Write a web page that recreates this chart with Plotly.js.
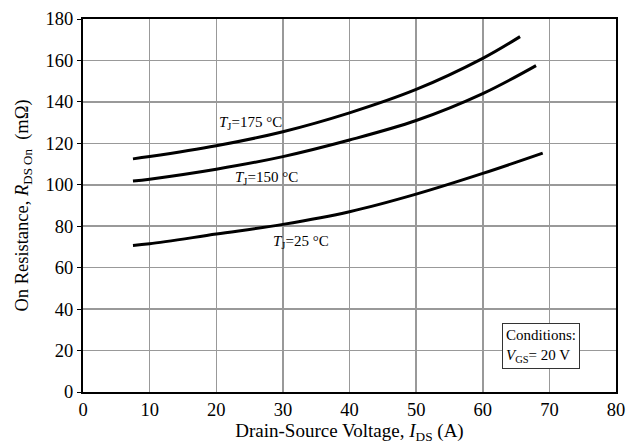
<!DOCTYPE html>
<html>
<head>
<meta charset="utf-8">
<script src="https://cdn.plot.ly/plotly-3.0.1.min.js"></script>
<style>html,body{margin:0;padding:0;background:#fff;}#chart{width:643px;height:444px;}</style>
</head>
<body>
<div id="chart"></div>
<script>
const x175 = [7.5, 10, 20, 30, 40, 50, 60, 65.6];
const y175 = [112.5, 113.6, 118.8, 125.6, 134.7, 146, 161, 171.5];
const x150 = [7.5, 10, 20, 30, 40, 50, 60, 68];
const y150 = [101.8, 102.7, 107.5, 113.6, 121.6, 131, 144, 157.5];
const x25 = [7.5, 10, 20, 30, 40, 50, 60, 69];
const y25 = [70.7, 71.5, 76.2, 80.9, 87, 95.5, 105.5, 115.3];
const xTicks = [0, 10, 20, 30, 40, 50, 60, 70, 80];
const yTicks = [0, 20, 40, 60, 80, 100, 120, 140, 160, 180];

const font = {family: '"Liberation Serif", "Times New Roman", serif', color: '#000'};
const line = {color: '#000', width: 3, shape: 'spline'};

const traces = [
  {x: x175, y: y175, mode: 'lines', line: line, name: 'Tj=175 °C', hoverinfo: 'skip'},
  {x: x150, y: y150, mode: 'lines', line: line, name: 'Tj=150 °C', hoverinfo: 'skip'},
  {x: x25, y: y25, mode: 'lines', line: line, name: 'Tj=25 °C', hoverinfo: 'skip'}
];

const layout = {
  width: 643, height: 444,
  margin: {l: 83, r: 27, t: 19, b: 52},
  paper_bgcolor: '#fff', plot_bgcolor: '#fff',
  showlegend: false,
  font: Object.assign({size: 16}, font),
  xaxis: {
    range: [0, 80], tickvals: xTicks, ticktext: xTicks.map(String),
    showgrid: true, gridcolor: '#999', gridwidth: 1.5,
    showline: true, linecolor: '#000', linewidth: 2, mirror: true,
    ticks: '', zeroline: false,
    tickfont: Object.assign({size: 18.5}, font),
    title: {text: 'Drain-Source Voltage, <i>I</i><sub>DS</sub> (A)', font: Object.assign({size: 19}, font), standoff: 2}
  },
  yaxis: {
    range: [0, 180], tickvals: yTicks, ticktext: yTicks.map(String),
    showgrid: true, gridcolor: '#999', gridwidth: 1.5,
    showline: true, linecolor: '#000', linewidth: 2, mirror: true,
    ticks: 'outside', ticklen: 4, tickcolor: '#000', zeroline: false,
    tickfont: Object.assign({size: 18.5}, font),
    title: {text: 'On Resistance, <i>R</i><sub>DS On</sub>  (mΩ)', font: Object.assign({size: 18.5}, font), standoff: 12}
  },
  annotations: [
    {x: 25.2, y: 130, xref: 'x', yref: 'y', text: '<i>T</i><sub>J</sub>=175 °C', showarrow: false, font: Object.assign({size: 15}, font)},
    {x: 27.6, y: 103.1, xref: 'x', yref: 'y', text: '<i>T</i><sub>J</sub>=150 °C', showarrow: false, font: Object.assign({size: 15}, font)},
    {x: 32.7, y: 72.5, xref: 'x', yref: 'y', text: '<i>T</i><sub>J</sub>=25 °C', showarrow: false, font: Object.assign({size: 15}, font)},
    {x: 68.7, y: 22.0, xref: 'x', yref: 'y', text: 'Conditions:<br><i>V</i><sub>GS</sub>= 20 V', align: 'left', showarrow: false,
     bgcolor: '#fff', bordercolor: '#333', borderwidth: 1, borderpad: 3, font: Object.assign({size: 15}, font)}
  ]
};

Plotly.newPlot('chart', traces, layout, {displayModeBar: false, staticPlot: true});
</script>
</body>
</html>
